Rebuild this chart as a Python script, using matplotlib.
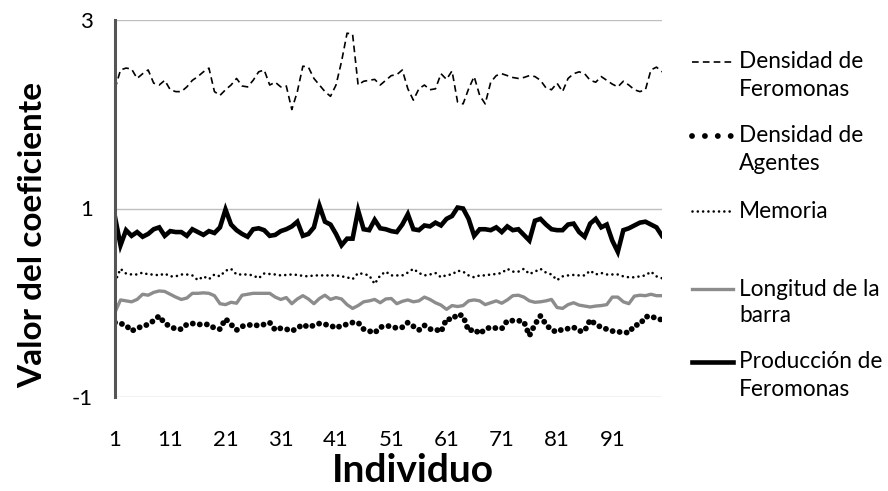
import numpy as np
import matplotlib.pyplot as plt
from matplotlib.lines import Line2D

plt.rcParams['font.family'] = ['Lato', 'DejaVu Sans']
plt.rcParams['axes.unicode_minus'] = False

individuo = np.arange(1, 101)

dens_feromonas = [
    2.27, 2.47, 2.49, 2.48, 2.38, 2.43, 2.47, 2.33, 2.31, 2.36,
    2.26, 2.24, 2.24, 2.29, 2.36, 2.40, 2.45, 2.49, 2.24, 2.20,
    2.26, 2.31, 2.38, 2.30, 2.29, 2.36, 2.45, 2.47, 2.31, 2.34,
    2.29, 2.30, 2.05, 2.24, 2.51, 2.50, 2.38, 2.31, 2.24, 2.19,
    2.31, 2.56, 2.86, 2.85, 2.31, 2.35, 2.36, 2.37, 2.31, 2.36,
    2.41, 2.42, 2.47, 2.27, 2.15, 2.27, 2.31, 2.26, 2.27, 2.43,
    2.37, 2.46, 2.13, 2.11, 2.27, 2.40, 2.20, 2.11, 2.34, 2.41,
    2.43, 2.41, 2.39, 2.38, 2.39, 2.41, 2.40, 2.36, 2.28, 2.26,
    2.33, 2.24, 2.38, 2.43, 2.45, 2.43, 2.36, 2.34, 2.40, 2.36,
    2.32, 2.29, 2.35, 2.31, 2.26, 2.24, 2.26, 2.47, 2.50, 2.45,
]
dens_agentes = [
    -0.21, -0.22, -0.24, -0.30, -0.27, -0.25, -0.23, -0.19, -0.14, -0.22,
    -0.25, -0.28, -0.28, -0.23, -0.22, -0.23, -0.23, -0.23, -0.27, -0.28,
    -0.17, -0.23, -0.29, -0.25, -0.24, -0.23, -0.245, -0.23, -0.21, -0.29,
    -0.27, -0.28, -0.30, -0.27, -0.23, -0.26, -0.24, -0.22, -0.23, -0.24,
    -0.27, -0.24, -0.23, -0.21, -0.21, -0.28, -0.30, -0.32, -0.26, -0.245,
    -0.25, -0.27, -0.26, -0.21, -0.25, -0.29, -0.24, -0.28, -0.28, -0.31,
    -0.17, -0.18, -0.12, -0.14, -0.30, -0.28, -0.33, -0.28, -0.26, -0.27,
    -0.275, -0.19, -0.19, -0.19, -0.20, -0.35, -0.23, -0.14, -0.23, -0.29,
    -0.31, -0.28, -0.275, -0.26, -0.30, -0.30, -0.18, -0.23, -0.26, -0.28,
    -0.30, -0.31, -0.31, -0.32, -0.24, -0.23, -0.15, -0.14, -0.17, -0.18,
]
memoria = [
    0.22, 0.36, 0.31, 0.30, 0.30, 0.32, 0.30, 0.30, 0.29, 0.31,
    0.28, 0.28, 0.30, 0.30, 0.29, 0.24, 0.28, 0.25, 0.30, 0.28,
    0.34, 0.36, 0.30, 0.30, 0.30, 0.29, 0.26, 0.31, 0.305, 0.30,
    0.29, 0.295, 0.30, 0.295, 0.285, 0.28, 0.29, 0.29, 0.29, 0.29,
    0.29, 0.28, 0.27, 0.25, 0.315, 0.305, 0.29, 0.20, 0.29, 0.33,
    0.29, 0.29, 0.29, 0.32, 0.36, 0.316, 0.29, 0.30, 0.316, 0.27,
    0.294, 0.30, 0.34, 0.33, 0.29, 0.27, 0.29, 0.29, 0.30, 0.305,
    0.316, 0.36, 0.33, 0.33, 0.36, 0.305, 0.33, 0.36, 0.32, 0.30,
    0.24, 0.28, 0.29, 0.295, 0.29, 0.29, 0.34, 0.30, 0.316, 0.30,
    0.30, 0.30, 0.28, 0.27, 0.27, 0.28, 0.29, 0.33, 0.28, 0.26,
]
longitud_barra = [
    -0.10, 0.03, 0.02, 0.01, 0.035, 0.09, 0.08, 0.11, 0.125, 0.12,
    0.09, 0.06, 0.035, 0.05, 0.10, 0.10, 0.105, 0.10, 0.075, -0.01,
    -0.02, 0.005, -0.005, 0.08, 0.09, 0.10, 0.10, 0.10, 0.10, 0.06,
    0.035, 0.055, -0.01, 0.04, 0.075, 0.04, -0.01, 0.045, 0.08, 0.035,
    0.055, 0.04, -0.02, -0.06, -0.03, 0.01, 0.02, 0.035, 0.0, 0.04,
    0.045, -0.01, 0.015, 0.03, 0.01, 0.02, 0.06, 0.035, 0.0, -0.025,
    -0.07, -0.03, -0.04, -0.03, 0.02, 0.03, 0.02, -0.02, 0.0, 0.02,
    -0.005, 0.03, 0.075, 0.08, 0.06, 0.02, 0.005, 0.01, 0.02, 0.035,
    -0.05, -0.06, -0.02, 0.0, -0.025, -0.035, -0.045, -0.035, -0.03, -0.02,
    0.06, 0.06, 0.01, -0.01, 0.07, 0.08, 0.075, 0.09, 0.075, 0.075,
]
prod_feromonas = [
    0.91, 0.61, 0.77, 0.71, 0.75, 0.70, 0.73, 0.78, 0.80, 0.71,
    0.76, 0.75, 0.75, 0.71, 0.78, 0.75, 0.72, 0.76, 0.74, 0.80,
    0.99, 0.83, 0.77, 0.73, 0.70, 0.78, 0.79, 0.77, 0.71, 0.72,
    0.76, 0.78, 0.81, 0.86, 0.71, 0.73, 0.80, 1.03, 0.86, 0.83,
    0.73, 0.61, 0.68, 0.68, 0.98, 0.78, 0.77, 0.88, 0.79, 0.78,
    0.76, 0.75, 0.83, 0.94, 0.78, 0.77, 0.82, 0.81, 0.85, 0.82,
    0.89, 0.92, 1.01, 1.00, 0.89, 0.71, 0.78, 0.78, 0.77, 0.80,
    0.75, 0.81, 0.77, 0.78, 0.72, 0.66, 0.87, 0.89, 0.83, 0.78,
    0.77, 0.77, 0.83, 0.84, 0.75, 0.70, 0.84, 0.89, 0.80, 0.83,
    0.66, 0.54, 0.77, 0.79, 0.82, 0.85, 0.86, 0.83, 0.80, 0.71,
]

labels = ["Densidad de\nFeromonas", "Densidad de\nAgentes", "Memoria",
          "Longitud de la\nbarra", "Producción de\nFeromonas"]
x_ticks = list(range(1, 101, 10))
y_ticks = [-1, 1, 3]

W, H = 888, 491
fig = plt.figure(figsize=(W / 100, H / 100), dpi=100)
ax = fig.add_axes([115 / W, 1 - 397 / H, (662 - 115) / W, (397 - 20) / H])

styles = [
    dict(color='black', lw=1.2, ls=(0, (4, 2.5))),
    dict(color='black', lw=4.2, ls=(0, (0.01, 1.2)), dash_capstyle='round'),
    dict(color='black', lw=1.9, ls=(0, (0.01, 2.0)), dash_capstyle='round'),
    dict(color='#8c8c8c', lw=2.4, ls='-'),
    dict(color='black', lw=3.3, ls='-', solid_joinstyle='miter'),
]
series = [dens_feromonas, dens_agentes, memoria, longitud_barra, prod_feromonas]
for y, st in zip(series, styles):
    ax.plot(individuo, y, **st)

ax.set_xlim(1, 100)
ax.set_ylim(-1, 3)
ax.set_xticks(x_ticks)
ax.set_yticks(y_ticks)
ax.tick_params(axis='both', length=0, labelsize=16, colors='black')
ax.tick_params(axis='x', pad=24)
ax.tick_params(axis='y', pad=16)
ax.yaxis.grid(True, color='#bfbfbf', lw=1)
ax.set_axisbelow(True)
for s in ['top', 'right', 'bottom']:
    ax.spines[s].set_visible(False)
ax.spines['left'].set_color('#555555')
ax.spines['left'].set_linewidth(2.2)

fig.text(33 / W, 1 - 235 / H, "Valor del coeficiente", rotation=90,
         fontsize=24, fontweight='bold', ha='center', va='center')
fig.text(413 / W, 1 - 470 / H, "Individuo", fontsize=28, fontweight='bold',
         ha='center', va='center')

# legend drawn by hand to copy the Excel layout
leg_y = [62, 136, 211, 289, 362]
leg_styles = [dict(st) for st in styles]
leg_styles[1]['ls'] = (0, (0.01, 2.2))
for y0, lab, st in zip(leg_y, labels, leg_styles):
    fig.add_artist(Line2D([692 / W, 733 / W], [1 - y0 / H, 1 - y0 / H],
                          transform=fig.transFigure, **st))
    for k, line in enumerate(lab.split("\n")):
        fig.text(739 / W, 1 - (y0 + 27 * k) / H, line, fontsize=16.3,
                 ha='left', va='center')

fig.savefig("out.png", dpi=100)
